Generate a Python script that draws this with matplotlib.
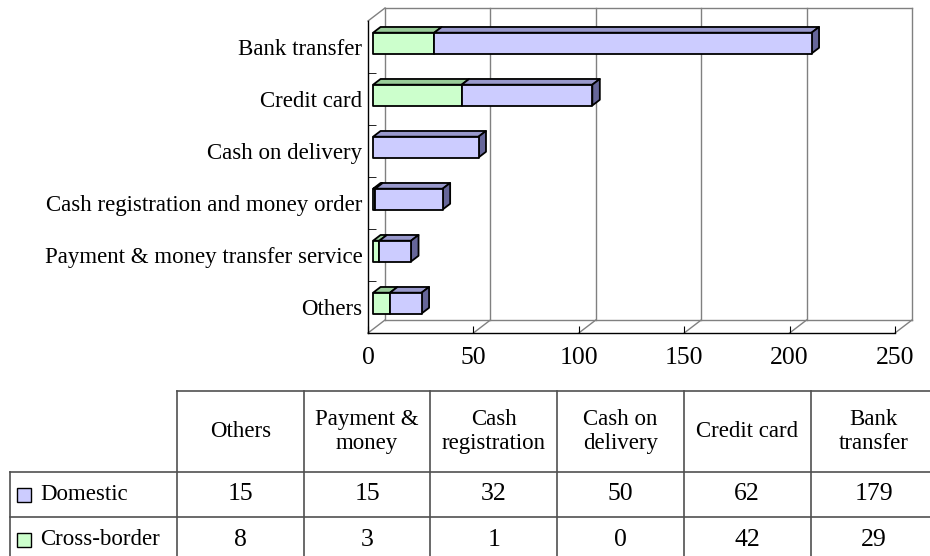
import matplotlib.pyplot as plt
from matplotlib.patches import Polygon

SERIF = ['Liberation Serif', 'DejaVu Serif']
plt.rcParams['font.family'] = SERIF

# payment methods, bottom to top on the chart
categories = ['Others', 'Payment & money transfer service',
              'Cash registration and money order', 'Cash on delivery',
              'Credit card', 'Bank transfer']
table_headers = ['Others', 'Payment &\nmoney', 'Cash\nregistration',
                 'Cash on\ndelivery', 'Credit card', 'Bank\ntransfer']
series_names = ['Domestic', 'Cross-border']
domestic = [15, 15, 32, 50, 62, 179]
cross_border = [8, 3, 1, 0, 42, 29]
x_ticks = [0, 50, 100, 150, 200, 250]

FS = 16.5     # text
FS_NUM = 18.5  # numbers
W, H = 930, 556
fig = plt.figure(figsize=(W / 100, H / 100), dpi=100)

ax_box = (368, 21, 527, 312)  # left, top, width, height in px
ax = fig.add_axes([ax_box[0] / W, 1 - (ax_box[1] + ax_box[3]) / H,
                   ax_box[2] / W, ax_box[3] / H])
xmax = x_ticks[-1]
n = len(categories)
ax.set_xlim(0, xmax)
ax.set_ylim(-0.5, n - 0.5)

# depth of the 3d box in px, converted to data units
depth_px = (17, 13)
ddx = depth_px[0] / (ax_box[2] / xmax)
ddy = depth_px[1] / (ax_box[3] / n)


def pt(x, y, z):
    return (x + z * ddx, y + z * ddy)


def face(pts, fc, ec='black', lw=1.3, zorder=3):
    ax.add_patch(Polygon([pt(*p) for p in pts], closed=True, facecolor=fc,
                         edgecolor=ec, linewidth=lw, zorder=zorder,
                         clip_on=False, joinstyle='round'))


def line(p0, p1, color='#808080', lw=1.0):
    a, b = pt(*p0), pt(*p1)
    ax.plot([a[0], b[0]], [a[1], b[1]], color=color, lw=lw, zorder=1,
            clip_on=False)


ylo, yhi = -0.5, n - 0.5
# back wall, floor and gridlines
for x in x_ticks[1:-1]:
    line((x, ylo, 1), (x, yhi, 1))
line((0, ylo, 1), (0, yhi, 1))
line((xmax, ylo, 1), (xmax, yhi, 1))
line((0, yhi, 1), (xmax, yhi, 1))
line((0, ylo, 1), (xmax, ylo, 1))
line((0, yhi, 0), (0, yhi, 1))
for x in x_ticks:
    line((x, ylo, 0), (x, ylo, 1))

# stacked 3d bars
colors = {'Domestic': ('#ccccff', '#9999cc', '#666699'),
          'Cross-border': ('#ccffcc', '#99cc99', '#669966')}
z0, z1 = 0.3, 0.74
bh = 0.4
for i in range(n):
    segs = [('Cross-border', 0, cross_border[i]),
            ('Domestic', cross_border[i], cross_border[i] + domestic[i])]
    segs = [s for s in segs if s[2] > s[1]]
    yb, yt = i - bh / 2, i + bh / 2
    for k, (name, x0, x1) in enumerate(segs):
        front, top, side = colors[name]
        face([(x0, yt, z0), (x1, yt, z0), (x1, yt, z1), (x0, yt, z1)], top)
        if k == len(segs) - 1:
            face([(x1, yb, z0), (x1, yb, z1), (x1, yt, z1), (x1, yt, z0)], side)
        face([(x0, yb, z0), (x1, yb, z0), (x1, yt, z0), (x0, yt, z0)], front)

for s in ['top', 'right']:
    ax.spines[s].set_visible(False)
for s in ['left', 'bottom']:
    ax.spines[s].set_linewidth(1.0)
    ax.spines[s].set_color('black')
ax.set_xticks(x_ticks)
ax.set_yticks(range(n))
ax.set_yticklabels(categories, family=SERIF)
ax.set_yticks([i + 0.5 for i in range(n - 1)], minor=True)
ax.tick_params(axis='x', direction='in', length=5, pad=10, labelsize=FS_NUM)
ax.tick_params(axis='y', which='major', length=0, pad=4, labelsize=FS)
ax.tick_params(axis='y', which='minor', direction='in', length=6)
ax.set_facecolor('none')

# data table under the chart, in px relative to its top-left corner
tab_box = (10, 391, 927, 171)
label_w, col_w, head_h, row_h = 167, 126.7, 81, 45
tax = fig.add_axes([tab_box[0] / W, 1 - (tab_box[1] + tab_box[3]) / H,
                    tab_box[2] / W, tab_box[3] / H])
tax.set_xlim(0, tab_box[2])
tax.set_ylim(tab_box[3], 0)
tax.axis('off')

ncol = len(table_headers)
col_edges = [label_w + c * col_w for c in range(ncol + 1)]
row_edges = [0, head_h, head_h + row_h, head_h + 2 * row_h]
grid = dict(color='#505050', lw=1.2, clip_on=False)
tax.plot([label_w, col_edges[-1]], [0, 0], **grid)
for y in row_edges[1:]:
    tax.plot([0, col_edges[-1]], [y, y], **grid)
tax.plot([0, 0], [head_h, row_edges[-1]], **grid)
for x in col_edges:
    tax.plot([x, x], [0, row_edges[-1]], **grid)

txt = dict(family=SERIF, va='center')
for c, head in enumerate(table_headers):
    tax.text(label_w + (c + 0.5) * col_w, head_h / 2, head, ha='center',
             fontsize=FS, linespacing=1.15, **txt)
for r, (name, vals) in enumerate(zip(series_names, [domestic, cross_border])):
    yc = head_h + (r + 0.5) * row_h
    tax.plot([14], [yc], marker='s', ms=9.5, mfc=colors[name][0],
             mec='black', mew=1.0, clip_on=False)
    tax.text(30, yc, name, ha='left', fontsize=FS, **txt)
    for c, v in enumerate(vals):
        tax.text(label_w + (c + 0.5) * col_w, yc, str(v), ha='center',
                 fontsize=FS_NUM, **txt)

fig.savefig('out.png', dpi=100)
